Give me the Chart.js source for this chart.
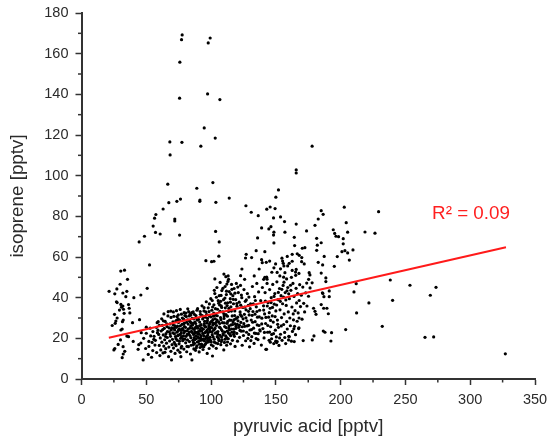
<!DOCTYPE html>
<html>
<head>
<meta charset="utf-8">
<style>
  html, body { margin: 0; padding: 0; background: #fff; }
  #wrap { width: 550px; height: 443px; }
  canvas { filter: blur(0.3px); }
</style>
<script src="https://cdn.jsdelivr.net/npm/chart.js@4"></script>
</head>
<body>
<div id="wrap"><canvas id="scatter"></canvas></div>
<script>
// values, [pyruvic acid, isoprene]
var highPoints = [[77.7,169.2],[77.2,166.9],[99.3,167.7],[97.8,165.3],[75.9,155.8],[75.7,138.1],[97.3,140.2],[106.8,137.4],[94.7,123.5],[103.2,118.5],[68.2,116.6],[77.5,116.4],[92.1,114.5],[68.4,110.2],[66.6,95.8],[89,93.8],[101.4,96.6],[114,89],[76.4,88.5],[91.4,88],[150,89.4],[152,93],[165.7,102.8],[165.7,101.3],[178,114.5]];

var upperScatter = [[67.4,86.7],[63,83.6],[57.4,80.9],[56.4,79.1],[55.3,75.2],[57.1,72.1],[60.7,71.3],[48.6,70.2],[44.5,67.4],[52.5,56.1],[30.3,53.1],[33.2,53.5],[35.5,49],
[73.6,87.4],[91.3,87.4],[103.7,86.9],[126.9,85.2],[131,82],[136.4,80.3],[72,78.7],[72,77.7],[75.7,70.8],[103.5,72.6],[106.3,67.4],[135.9,69.4],[134.8,63.1],[127.1,61.3],[126.6,59.5],[131.3,59.7],[106,60.4],[96,58.2],[100.4,57.7],[102.2,57.9],[123.8,54.1],[137.1,54.1],[109.9,51.6],[122.8,50.8],[133.3,50.7],[111.4,50.3],[113.2,50.7],[102.9,49.2],[113.5,49],[125.9,49],
[202.8,84.5],[145.6,84.6],[143,83.5],[149.4,83.8],[185,82.8],[186.5,81],[148.2,79.2],[153.6,79.7],[182.7,78.7],[156.7,77.4],[204.3,76.9],[165.7,76.2],[180.2,75.6],[146.2,74.9],[144.6,73.8],[139,74.3],[173.7,72.8],[157,72.2],[148.5,72.2],[148.2,70.8],[194.3,73.4],[195.4,71.6],[196.4,70.2],[198.4,70],[205.4,72.2],[164.2,69.7],[181.5,69.2],[202,69],[148.5,66.9],[185,67],[164.5,65.6],[182,65.8],[202,66.5],[172.4,64.6],[170.4,64.3],[141.5,62.6],[181.5,63.3],[201,62.6],[203.3,63.1],[205.4,62],[209.5,63.5],[162.6,61.3],[166.5,61.6],[168,60.8],[158.8,60.3],[187.3,60.3],[197.4,60.2],[206.7,58.5],[154.7,59.4],[155.2,58],[170,59.7],[169.9,57.7],[171.9,56.6],[182.7,57.4],[186.1,56.1],[195.1,55.4],[139,58.7],[142.6,57.4],[145.2,58],[139.5,57.2],[149.8,56.6],[155.7,56.9],[162.6,57.9],[160.3,56.9],[156.2,55.6],[159.1,55.6],[148.5,54.7],[153.6,54.2],[162.6,53.4],[165.7,53.9],[146.9,52.5],[157,52.3],[151,52.4],[165.2,52.6],[167.8,51.9],[175.7,52.3],[176.3,51.2],[185,52.1],[165.3,51],[153.1,50.7],[141.5,50],[142.9,50.1],[140.6,49],[143.2,49.1],[188.6,49.7],[175.3,49],[158.3,49.2],[156,50.1],[162,50]];

var leftCluster = [[21.3,43.1],[25.7,41.9],[27.3,44.3],[29.8,46.6],[31.9,42.3],[35,43.1],[34.2,40.5],[40.4,40],[45.8,41.3],[50.7,44.6],[27,38],[27.5,37.6],[30.4,36.7],[31.9,35.9],[30.9,35.3],[29.3,33.9],[32.4,34.3],[32.9,32.3],[36.3,36.6],[36.8,34.8],[37.3,32.5],[25.5,31.8],[27.5,30],[32.2,29],[26.5,28.5],[31.6,28.2],[26,27.4],[23.7,26.3],[31.4,24.6],[30.4,24.1],[39.4,27.7],[44.8,29.2],[30.1,19.2],[28.3,17],[32.1,15.9],[33.4,13.6],[32.2,12.3],[31.4,10.5],[25.7,15],[25,14.3],[35,21.1],[36.3,20.8],[39.9,18.5],[45.8,17.7],[44.2,16.9],[43.7,14.6]];

var mainCloudA = [[47.6,9.4],[48,20],[50,22.5],[51.5,12.1],[52,16],[53,25],[54.1,10.7],[54.5,18],[55,14],[56,21],[57,19],[58,13],[58.4,27.7],[59,24],[59.2,28.2],[60,16.5],[60.5,11.5],[55.8,19.5],[46.1,22.8],[52,18.5],[50,25.5],[49.5,15],[63.6,32],[66.9,33.1],
[60.8,20.2],[61.2,14.3],[61.5,23.6],[62,18.1],[62.4,26.4],[62.9,12.8],[63.1,21.7],[63.5,16.2],[63.9,24.9],[64.2,19.3],[64.6,28.3],[65,14.9],[65.2,22.3],[65.6,17.6],[66,25.8],[66.2,20.4],[66.7,31],[67.2,11],[67.4,15.7],[67.8,23.2],[68,18.7],[68.3,27.1],[68.7,21],[69,13.6],[69.5,9.4],[69.6,25.1],[69.9,16.9],[69.1,30.3],[68.9,33.4],[64.4,13.1],[61.9,29.6],
[70.2,19.5],[70.5,22.7],[70.8,26.6],[71,15.2],[71.3,30.8],[71.6,18],[71.9,24.1],[72.2,12.6],[72.5,20.9],[72.8,28.5],[73,16.4],[73.3,33.6],[73.6,23],[73.9,19],[74.1,26],[74.4,14.2],[74.7,31.5],[75,21.6],[75.3,17.3],[75.5,24.7],[75.8,28.9],[76,13.1],[76.2,34.2],[76.5,20],[76.7,11],[77,22.6],[77.3,16.1],[77.6,26.9],[77.8,30],[78.1,18.8],[78.4,24],[78.7,21.2],[79,14.7],[79.2,32.6],[79.5,27.5],[79.7,19.6],[79.9,23.5],[70.9,33],[72.4,17.1],[74.9,27.8],[76.9,15.3],[78.9,29.4],
[80.2,25.4],[80.4,17.8],[80.7,21],[80.9,30.7],[81.2,13.4],[81.5,23.7],[81.8,19.2],[82,34.5],[82.3,27],[82.5,15.9],[82.8,22.1],[83,28.8],[83.3,18.4],[83.6,25],[83.8,32],[84.1,12.3],[84.4,20.3],[84.6,16.6],[84.9,23.4],[85.2,9.4],[85.4,29.8],[85.7,26.5],[85.9,19],[86.2,33],[86.5,21.9],[86.7,14.8],[87,24.4],[87.2,17.5],[87.5,28],[87.8,22.6],[88,14.1],[88.3,31.2],[88.5,19.8],[88.8,26],[89,16.3],[89.3,23],[89.6,34.6],[89.8,20.7],[81.4,16],[83.1,31],[84.8,27.6],[86.4,18],[87.9,25.3],[89.2,29],
[90.1,25],[90.4,18.5],[90.8,13.3],[91,22],[91.2,28],[91.5,15.5],[91.8,31.8],[92,20.1],[92.3,26.7],[92.5,17.2],[92.8,23.6],[93,36],[93.3,19.4],[93.5,29.5],[93.8,14.5],[94,24.5],[94.3,21.3],[94.5,33.5],[94.8,27.3],[95,16.8],[95.3,22.8],[95.5,30.4],[95.8,19.9],[96,25.6],[96.3,38],[96.5,17.9],[96.8,23.9],[97,12.6],[97.2,28.6],[97.5,21.6],[97.8,35],[98,18.2],[98.3,26.2],[98.5,15],[98.8,31],[99,23.2],[99.3,20.5],[99.5,27.9],[99.8,39.5],[91.7,24],[92.9,16],[94.1,30.6],[95.9,33],[97.4,19],[98.9,24.2],[96.7,21],
[100.1,18.3],[100.4,25.2],[100.6,33.8],[100.9,21.8],[101.1,11.3],[101.4,29.2],[101.6,16.2],[101.9,24],[102.2,36.5],[102.4,19.6],[102.7,27.2],[102.9,42],[103.2,22.5],[103.5,31.4],[103.7,17.7],[104,15.1],[104.2,26.3],[104.5,45],[104.7,20.8],[105,34.3],[105.3,23.3],[105.5,38.5],[105.8,28.1],[106,18.9],[106.3,41],[106.5,25.5],[106.8,21.5],[107,47.5],[107.3,30.2],[107.5,16.9],[107.8,36],[108,24.3],[108.3,43.5],[108.5,19.3],[108.8,27.7],[109,33],[109.3,22.3],[109.6,39],[109.8,14.3],[110,29.8],
[110.3,18],[110.5,25.8],[110.8,45.5],[111,35],[111.3,21.2],[111.5,31.7],[111.8,41.5],[112,16.6],[112.3,27.4],[112.5,23.5],[112.8,37.5],[113,48],[113.3,19.8],[113.5,33.2],[113.8,25],[114,43],[114.3,29],[114.5,21.9],[114.8,39.5],[115,17.3],[115.3,35.5],[115.5,26.6],[115.8,46.5],[116,23],[116.3,31],[116.5,19],[116.8,41],[117,28],[117.3,37],[117.5,24.5],[117.8,44.5],[118,21],[118.3,33.5],[118.5,16],[118.8,29.5],[119,39],[119.3,26],[119.5,47],[119.8,22.4],[120,35.8]];

var mainCloudB = [[120.4,18.6],[120.7,30.5],[121,42.5],[121.4,25.4],[121.7,37.8],[122,20.5],[122.4,33],[122.7,46],[123,27.8],[123.3,23.5],[123.7,40],[124,16.6],[124.4,35.2],[124.7,29.6],[125,21.4],[125.4,44],[125.7,31.8],[126,25.9],[126.4,38.2],[126.7,18.8],[127,34],[127.4,23],[127.7,28.6],[128,42],[128.4,20],[128.7,36.2],[129,26.4],[129.4,31.5],[129.7,15.8],[130,24.1],
[130.5,37],[131,29],[131.4,20.8],[131.9,45.5],[132.3,33.2],[132.8,25],[133.2,17.5],[133.6,40.5],[134,28.2],[134.5,22.4],[134.9,35.5],[135.3,47],[135.8,30.4],[136.2,19.4],[136.7,42.8],[137,26.3],[137.5,33.8],[137.9,23.6],[138.3,38.5],[138.8,16.7],[139.2,29.9],[139.6,45],[140,24.8],[140.5,36],[140.9,20.2],
[141.3,32],[141.7,42.5],[142.1,27.3],[142.8,14.6],[143.2,47],[143.6,23],[144,37.5],[144.4,30.4],[144.8,19],[145.2,44],[145.6,34.8],[146,25.7],[146.4,40],[146.8,21.9],[147.2,31],[147.6,46.5],[148,28],[148.4,17.4],[148.8,36.8],[149.2,42],[149.6,24],[150,33.5],[150.4,20.7],[150.8,47.8],[151.2,29],[151.6,39],[152,25.4],[152.4,16.5],[152.8,44.5],[153.2,34],[153.6,22],[154,41],[154.4,30.2],[154.8,19],[155.2,37],[155.6,46],[156,26.8],[156.4,32],[156.8,22.9],[157.2,42.5],[157.6,17.4],[158,36.2],[158.4,28.2],[158.8,24.6],[159.2,45],[159.6,33],[160,21],[160.4,39.5],[160.8,30],[161.2,26.2],[161.6,43.6],[162,18.6],[162.4,35.4],[162.8,23.4],[163.2,47],[163.6,29.1],[164,40.6],[164.4,25.9],[164.8,33.6],[165.2,21.8],[165.6,44.6],[166,37.4],[166.4,28.4],[166.8,42],[167.2,32.5],[167.6,24.8],[168,38.6],[168.4,46.4],[169,35.6],[169.6,41.2],[170.2,29.4],[170.8,45.2],[171.5,37.2],[172.2,33],[173,42.4],[173.8,47.2]];

// the thick part of the blob, where single dots run together
var denseBlob = [[74.2,21.3],[76.8,23.9],[73.1,25.4],[78.3,19.7],[75.6,18.6],[71.7,22.2],[79.4,25.8],[77.2,20.8],[72.9,19.9],[75.1,24.3],[84.3,26.1],[87.6,23.2],[82.2,24.6],[86.1,27.4],[88.9,25.1],[83.7,21.4],[85.5,22.9],[81.1,27.9],[89.7,22.1],[86.9,20.3],[93.6,22.4],[96.2,20.6],[91.4,23.5],[98.1,24.9],[94.9,18.7],[97.6,22.8],[92.2,21.2],[95.4,25.7],[99.4,19.1],[90.6,20.1],[104.3,22.9],[107.1,25.2],[102.8,24.7],[105.6,20.2],[108.7,23.6],[103.9,27.8],[106.2,19.4],[101.3,26.5],[109.4,21.7],[100.7,23.2],[114.2,24.2],[116.7,26.8],[112.9,28.3],[117.9,23.1],[115.1,21.3],[111.6,25.3],[118.6,27.1],[113.4,22.6],[110.2,27.6],[119.2,24.9],
[99.8,30.6],[102.1,32.4],[97.3,29.8],[104.8,31.1],[100.3,28.3],[96.6,31.7],[103.2,29.6],[106.9,33.3],[98.4,33.1],[101.8,30.9],[108.2,35.2],[111.1,37.3],[106.6,36.4],[113.7,34.7],[109.9,32.1],[112.4,36.1],[115.7,33.4],[107.4,38.2],[110.7,39.8],[114.9,37.8],[120.8,28.6],[123.6,30.8],[118.2,31.2],[125.3,27.2],[121.9,26.4],[119.7,29.9],[126.9,30.1],[122.6,31.7],[124.1,25.7],[127.8,26.1],[89.4,18.2],[92.7,16.9],[87.3,19.3],[94.4,15.9],[90.9,17.1],[86.3,16.8],[93.1,19.2],[88.6,15.4],[95.7,17.2],[91.9,19],[69.3,24.2],[72.1,26.2],[67.6,25.1],[70.6,28.1],[66.3,23.3],[73.4,28.8],[68.4,22.1],[71.4,24.9],[65.8,27.1],[74.6,29.6],
[81.9,29.1],[84.2,31.4],[79.8,31.2],[86.6,29.6],[82.7,33.1],[77.1,31.9],[85.1,32.6],[88.4,30.1],[83.9,28.2],[80.6,32.4],[76.3,26.2],[78.8,27.1],[73.7,30.7],[90.3,29.3],[93.2,31.2],[87.1,31.8],[95.1,28.4],[91.6,33.2],[89.1,33.8],[94.6,35.1],[101.2,35.4],[103.4,34.6],[98.7,36.9],[105.9,37.3],[100.9,38.6],[104.1,40.2],[107.7,41.1],[102.5,43.6],[109.1,44.6],[111.9,43.2],[115.2,41.9],[112.2,46.7],[116.1,44.1],[118.4,42.2],[120.6,45.2],[117.1,39.2],[119.9,37.1],[122.9,36.3],[125.9,35.3],[123.4,41.3],[128.9,33.3],[131.7,31.3],[127.2,38.9],[130.2,34.6],[133.9,31.9],[129.2,40.3],[135.4,33.2],[132.6,36.9],[137.2,30.6],[134.2,38.6],
[131.2,24.3],[133.4,22.6],[129.1,21.9],[135.6,26.6],[132.1,27.9],[137.6,24.2],[134.8,19.9],[139.1,27.1],[136.4,22.3],[130.7,18.9],[142.3,30.3],[144.9,32.6],[140.6,33.9],[147.4,35.2],[143.4,35.9],[145.9,28.8],[149.4,30.7],[141.9,38.3],[146.3,37.6],[150.6,36.4],[153.4,38.2],[148.6,40.6],[155.9,40.3],[151.9,42.6],[157.7,38.9],[154.6,44.1],[159.9,41.9],[156.3,47.6],[161.3,46.1],[158.6,43.4],[141.2,22.9],[145.1,23.1],[148.2,22.3],[143.8,26.3],[151.4,26.9],[146.7,19.8],[154.2,26.1],[149.9,18.6],[152.9,20.2],[156.9,20.4],[55.1,23.3],[57.8,25.4],[53.4,21.2],[59.6,21.9],[56.7,16.7],[62.7,24.3],[60.1,26.4],[58.6,22.8],[64.9,20.9],[63.2,28.6],
[88.2,21.1],[90.2,23.3],[92.6,25.1],[94.2,19.7],[96.1,23.2],[97.9,20.1],[99.6,25.4],[101.6,20.7],[103.1,25.1],[105.1,22.1],[106.7,27.3],[108.1,20.6],[110.6,23.1],[112.1,20.3],[113.9,26.2],[115.9,24.6],[117.4,21.9],[100.2,16.8],[102.6,18.1],[105.2,17.4],[107.9,18.4],[110.9,19.6],[112.7,18.2],[98.8,27.1],[96.9,27.5],[94.7,26.4],[91.1,26.2],[88.1,27.3],[85.6,24.9],[83.2,23.1],[81.6,21.9],[79.1,22.7],[77.9,24.8],[76.1,21.9],[74.6,23.7],[101.4,27.6],[104.6,29],[107.6,29.2],[110.1,31],[112.6,30.9],[115.4,28.9],[117.6,29.1],[120.2,26.9],[122.3,23.9],[124.9,23.6]];

var lowerRight = [[185.9,42.4],[191.2,43.3],[188.6,47.9],[174,35.9],[185,36.6],[179.1,34.8],[180.2,33.3],[181,31.8],[186.9,34.8],[189.4,34.8],[190.5,32.1],[186.3,42.1],[187.1,40.5],[191.2,40.5],[176.4,44.8],[178,47.3],[175.2,40.7],
[163.9,24.7],[167.8,25.2],[186.6,23.6],[187.9,23],[193,22.8],[179.4,21.2],[178.1,19.2],[171.1,18.9],[164.2,18.4],[192.5,18.7],[160.3,20.8],[159.8,19.2],[151,18.4],[150.6,17.9],[145.7,18.1],[142.3,14.6],[167.9,30],[163.4,32],
[210.3,42.8],[212,46.9],[212.3,32.5],[221.8,37.4],[238.3,48.7],[240.1,38.7],[253.5,46.1],[269.2,41.2],[273.6,45.1],[232.1,25.9],[265.1,20.5],[271.8,20.7],[327.1,12.4],[203.9,24.3],[229.3,82.3],[226.5,71.7],[218.8,72.3]];

var scatterData = highPoints.concat(upperScatter, leftCluster, mainCloudA, mainCloudB, denseBlob, lowerRight);

var fitLine = [[21.1,20.3],[327.6,64.8]];
var fitLabel = 'R² = 0.09';
var fitLabelAt = [300.6, 81];

var xMinorTicks = [25,75,125,175,225,275,325];
var yMinorTicks = [10,30,50,70,90,110,130,150,170];

var axisColor = '#333333';
var textColor = '#2b2b2b';
var fontName = '"Liberation Sans", Arial, sans-serif';

var extras = {
    id: 'extras',
    afterDraw: function (chart) {
        var c = chart.ctx, xs = chart.scales.x, ys = chart.scales.y;
        c.save();
        c.strokeStyle = axisColor;
        c.lineWidth = 1.5;
        xMinorTicks.forEach(function (v) {
            var p = xs.getPixelForValue(v);
            c.beginPath(); c.moveTo(p, ys.bottom); c.lineTo(p, ys.bottom + 3.5); c.stroke();
        });
        yMinorTicks.forEach(function (v) {
            var p = ys.getPixelForValue(v);
            c.beginPath(); c.moveTo(xs.left, p); c.lineTo(xs.left - 3.5, p); c.stroke();
        });
        c.fillStyle = '#ff1f1f';
        c.font = '18.8px ' + fontName;
        c.textAlign = 'center';
        c.textBaseline = 'middle';
        c.fillText(fitLabel, xs.getPixelForValue(fitLabelAt[0]), ys.getPixelForValue(fitLabelAt[1]));
        c.restore();
    }
};

// keep the plot area where the picture has it, labels may hang over
function pinPadding(scale) {
    scale.paddingTop = 0;
    scale.paddingBottom = 0;
    scale.paddingLeft = 0;
    scale.paddingRight = 0;
}

new Chart(document.getElementById('scatter'), {
    type: 'scatter',
    data: {
        datasets: [
            {
                data: fitLine.map(function (p) { return { x: p[0], y: p[1] }; }),
                showLine: true,
                borderColor: '#ff1a1a',
                borderWidth: 2,
                pointRadius: 0
            },
            {
                data: scatterData.map(function (p) { return { x: p[0], y: p[1] }; }),
                backgroundColor: '#000000',
                borderWidth: 0,
                pointRadius: 1.6
            }
        ]
    },
    options: {
        responsive: true,
        maintainAspectRatio: false,
        animation: false,
        layout: { padding: { top: 13, right: 15, bottom: 0, left: 0 } },
        plugins: { legend: { display: false }, tooltip: { enabled: false } },
        scales: {
            x: {
                type: 'linear',
                min: 0,
                max: 350,
                afterFit: function (scale) { scale.height = 64; pinPadding(scale); },
                grid: { drawOnChartArea: false, color: axisColor, tickColor: axisColor, tickLength: 6, tickWidth: 1.5 },
                border: { color: axisColor, width: 2 },
                ticks: { stepSize: 50, maxRotation: 0, padding: 6, color: textColor, font: { family: fontName, size: 14.5 } },
                title: { display: true, text: 'pyruvic acid [pptv]', color: textColor, font: { family: fontName, size: 18.8 }, padding: { top: 4, bottom: 5 } }
            },
            y: {
                min: 0,
                max: 180,
                afterFit: function (scale) { scale.width = 81.5; pinPadding(scale); },
                grid: { drawOnChartArea: false, color: axisColor, tickColor: axisColor, tickLength: 6, tickWidth: 1.5 },
                border: { color: axisColor, width: 2 },
                ticks: { stepSize: 20, padding: 7, color: textColor, font: { family: fontName, size: 14.5 } },
                title: { display: true, text: 'isoprene [pptv]', color: textColor, font: { family: fontName, size: 18.8 }, padding: { top: 7, bottom: 0 } }
            }
        }
    },
    plugins: [extras]
});
</script>
</body>
</html>
